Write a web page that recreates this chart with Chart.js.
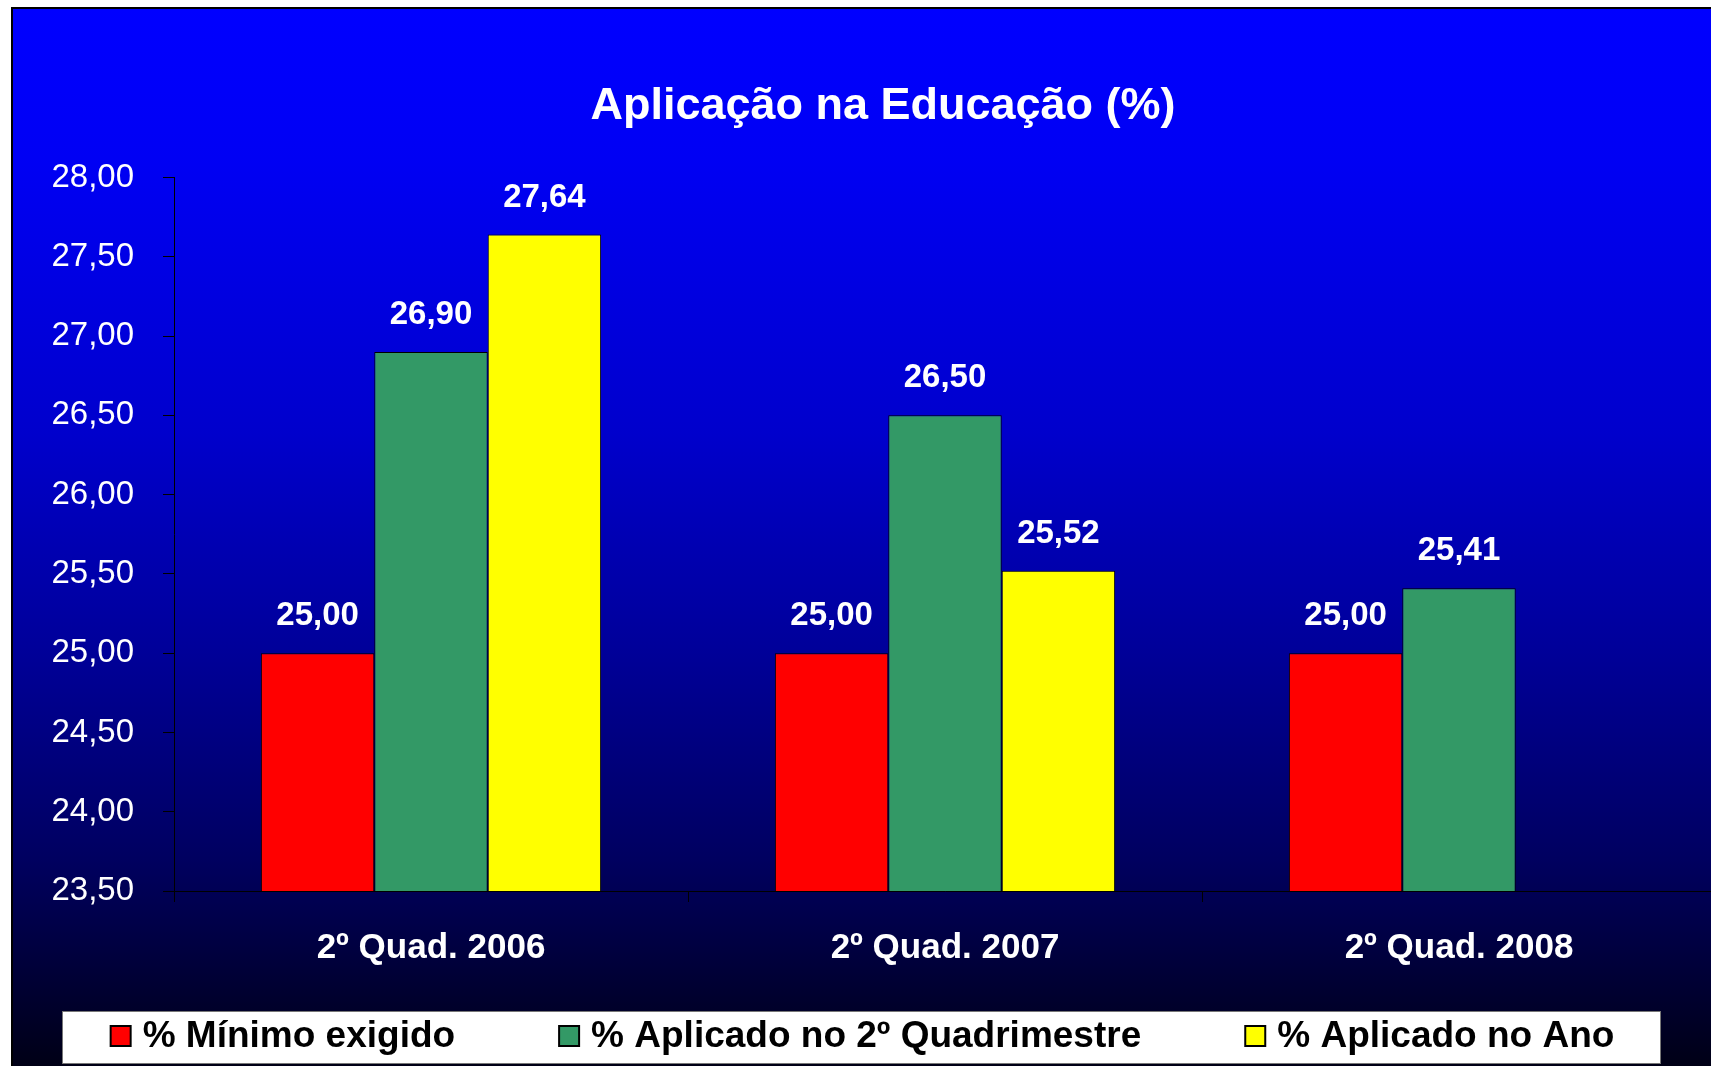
<!DOCTYPE html>
<html>
<head>
<meta charset="utf-8">
<script src="https://cdn.jsdelivr.net/npm/chart.js@4/dist/chart.umd.min.js"></script>
<style>
  html, body { margin: 0; padding: 0; background: #fff; overflow: hidden; width: 1711px; height: 1066px; }
  #frame {
    position: absolute; left: 11px; top: 7px; width: 1760px; height: 1062px;
    border-left: 2px solid #000; border-top: 2px solid #000;
    background: linear-gradient(to bottom, #0000ff 0%, #0000f4 14%, #0000cc 40%, #00009a 60%, #000060 80%, #00003a 90%, #000014 100%);
  }
  #wrap { position: absolute; left: 0; top: 0; width: 1740px; height: 1057px; }
</style>
</head>
<body>
<div id="frame">
  <div id="wrap"><canvas id="chart"></canvas></div>
</div>
<script>
// dados
const categorias = ["2º Quad. 2006", "2º Quad. 2007", "2º Quad. 2008"];
const minimoExigido = [25.00, 25.00, 25.00];
const aplicadoQuad  = [26.90, 26.50, 25.41];
const aplicadoAno   = [27.64, 25.52, null];
const yTicks = [23.5, 24, 24.5, 25, 25.5, 26, 26.5, 27, 27.5, 28];

const FONT = "'Liberation Sans', Arial, Helvetica, sans-serif";
const fmt = v => v.toFixed(2).replace(".", ",");

// legenda em caixa branca, desenhada a partir dos datasets
const boxLegend = {
  id: "boxLegend",
  afterDraw(chart) {
    const ctx = chart.ctx;
    const ds = chart.data.datasets;
    const sq = 20, gapTxt = 12, gapItem = 104;
    const cx = 849.5, cy = 1027;
    ctx.save();
    ctx.fillStyle = "#fff";
    ctx.fillRect(49, 1002, 1598, 52);
    ctx.strokeStyle = "#777";
    ctx.lineWidth = 1;
    ctx.strokeRect(49.5, 1002.5, 1598, 52);
    ctx.font = "bold 37px " + FONT;
    ctx.textBaseline = "middle";
    ctx.textAlign = "left";
    const widths = ds.map(d => sq + gapTxt + ctx.measureText(d.label).width);
    const total = widths.reduce((a, b) => a + b, 0) + gapItem * (ds.length - 1);
    let x = cx - total / 2;
    ds.forEach((d, i) => {
      ctx.fillStyle = d.backgroundColor;
      ctx.fillRect(x, cy - sq / 2, sq, sq);
      ctx.strokeStyle = "#000";
      ctx.lineWidth = 2;
      ctx.strokeRect(x, cy - sq / 2, sq, sq);
      ctx.fillStyle = "#000";
      ctx.fillText(d.label, x + sq + gapTxt, cy + 1);
      x += widths[i] + gapItem;
    });
    ctx.restore();
  }
};

// rótulos de valor em cima das barras
const valueLabels = {
  id: "valueLabels",
  afterDatasetsDraw(chart) {
    const ctx = chart.ctx;
    ctx.save();
    ctx.font = "bold 33px " + FONT;
    ctx.fillStyle = "#fff";
    ctx.textAlign = "center";
    ctx.textBaseline = "middle";
    chart.data.datasets.forEach((ds, di) => {
      chart.getDatasetMeta(di).data.forEach((bar, i) => {
        const v = ds.data[i];
        if (v == null) return;
        ctx.fillText(fmt(v), bar.x, bar.y - 37);
      });
    });
    ctx.restore();
  }
};

new Chart(document.getElementById("chart"), {
  type: "bar",
  data: {
    labels: categorias,
    datasets: [
      { label: "% Mínimo exigido", data: minimoExigido, backgroundColor: "#ff0000" },
      { label: "% Aplicado no 2º Quadrimestre", data: aplicadoQuad, backgroundColor: "#339966" },
      { label: "% Aplicado no Ano", data: aplicadoAno, backgroundColor: "#ffff00" }
    ].map(d => ({ ...d, borderColor: "#000", borderWidth: 1, barPercentage: 1, categoryPercentage: 0.662 }))
  },
  options: {
    responsive: true,
    maintainAspectRatio: false,
    animation: false,
    layout: { padding: { left: 37, right: 37, top: 0, bottom: 95 } },
    scales: {
      x: {
        grid: { drawOnChartArea: false, color: "#000", tickLength: 11 },
        border: { color: "#000", width: 1 },
        ticks: { color: "#fff", font: { family: FONT, size: 35, weight: "bold" }, padding: 25, maxRotation: 0 },
        afterFit: s => { s.height = 80; }
      },
      y: {
        min: 23.5,
        max: 28,
        grid: { drawOnChartArea: false, color: "#000", tickLength: 11 },
        border: { color: "#000", width: 1 },
        afterBuildTicks: s => { s.ticks = yTicks.map(v => ({ value: v })); },
        ticks: { color: "#fff", font: { family: FONT, size: 33 }, padding: 29, callback: v => fmt(v) },
        afterFit: s => { s.width = 124; }
      }
    },
    plugins: {
      title: {
        display: true,
        text: "Aplicação na Educação (%)",
        color: "#fff",
        font: { family: FONT, size: 45, weight: "bold" },
        padding: { top: 71, bottom: 43.5 }
      },
      legend: { display: false },
      tooltip: { enabled: false }
    }
  },
  plugins: [boxLegend, valueLabels]
});
</script>
</body>
</html>
